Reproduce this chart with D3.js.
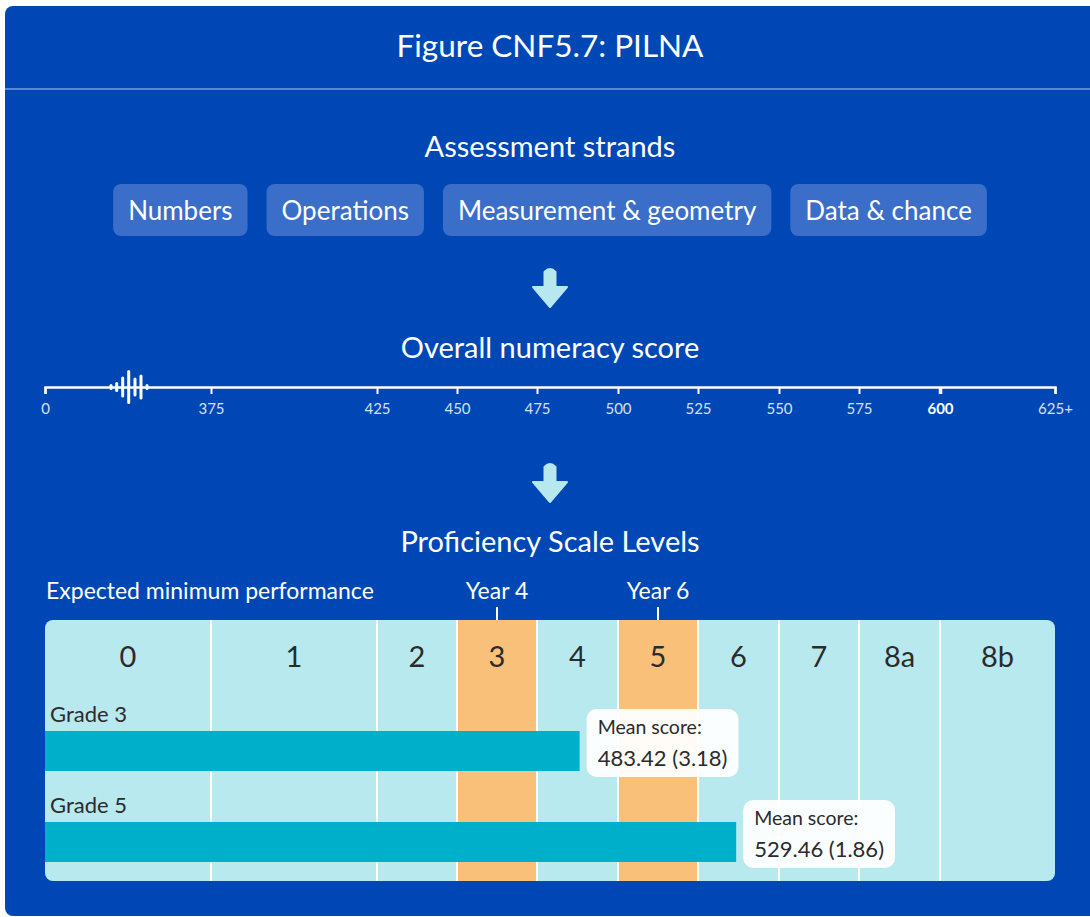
<!doctype html>
<html>
<head>
<meta charset="utf-8">
<title>Figure CNF5.7: PILNA</title>
<script src="https://d3js.org/d3.v7.min.js"></script>
<style>
  body { margin: 0; background: #fff; }
  svg { display: block; font-family: Lato, "Noto Sans", sans-serif; }
</style>
</head>
<body>
<script>
// data
var strands = ["Numbers", "Operations", "Measurement & geometry", "Data & chance"];
var tickValues = [0, 375, 425, 450, 475, 500, 525, 550, 575, 600, 625];
var tickLabels = ["0", "375", "425", "450", "475", "500", "525", "550", "575", "600", "625+"];
var levels = ["0", "1", "2", "3", "4", "5", "6", "7", "8a", "8b"];
var levelBounds = [0, 375, 425, 450, 475, 500, 525, 550, 575, 600, 625];
var expectedYears = ["Year 4", "Year 6"];
var expectedLevels = ["3", "5"];
var grades = ["Grade 3", "Grade 5"];
var meanScores = [483.42, 529.46];
var stdErrors = [3.18, 1.86];

var W = 1090, H = 917;
var blue = "#0047b6", cyan = "#b8e9ef", orange = "#f9c07a", teal = "#00b0cb", dark = "#2b2b2b";

var svg = d3.select("body").append("svg").attr("width", W).attr("height", H);

// panel
svg.append("rect").attr("x", 5).attr("y", 6).attr("width", 1100).attr("height", 910)
  .attr("rx", 8).attr("fill", blue);
svg.append("line").attr("x1", 5).attr("x2", W).attr("y1", 89).attr("y2", 89)
  .attr("stroke", "#5a88d4").attr("stroke-width", 2);

function heading(txt, y, size) {
  svg.append("text").attr("x", 550).attr("y", y).attr("text-anchor", "middle")
    .attr("fill", "#fff").style("font-size", size + "px").text(txt);
}
heading("Figure CNF5.7: PILNA", 57, 31.5);
heading("Assessment strands", 157, 29);
heading("Overall numeracy score", 358, 29);
heading("Proficiency Scale Levels", 552, 29);

// strand pills
var pad = 15, gap = 19;
var pills = svg.append("g");
var pillText = pills.selectAll("text").data(strands).enter().append("text")
  .attr("y", 220).attr("fill", "#fff").style("font-size", "26px").text(function(d) { return d; });
var widths = [];
pillText.each(function() { widths.push(this.getComputedTextLength() + 2 * pad); });
var total = d3.sum(widths) + gap * (strands.length - 1);
var px = 550 - total / 2, starts = [];
widths.forEach(function(w) { starts.push(px); px += w + gap; });
pills.selectAll("rect").data(strands).enter().insert("rect", "text")
  .attr("x", function(d, i) { return starts[i]; }).attr("y", 184)
  .attr("width", function(d, i) { return widths[i]; }).attr("height", 52)
  .attr("rx", 8).attr("fill", "#3a6ec8");
pillText.attr("x", function(d, i) { return starts[i] + pad; });

// arrows
function arrow(t) {
  var cx = 550;
  svg.append("path")
    .attr("d", "M" + (cx - 5.5) + "," + (t + 20) + " L" + (cx - 5.5) + "," + (t + 5) +
      " Q" + cx + "," + (t - 1) + " " + (cx + 5.5) + "," + (t + 5) +
      " L" + (cx + 5.5) + "," + (t + 20) + " L" + (cx + 17) + "," + (t + 20) +
      " L" + cx + "," + (t + 40) + " L" + (cx - 17) + "," + (t + 20) + " Z")
    .attr("fill", "#b7e8f0").attr("stroke", "#b7e8f0").attr("stroke-width", 2)
    .attr("stroke-linejoin", "round");
}
arrow(267);
arrow(462);

// score scale (piecewise, one segment per level)
var edgesPx = [45, 211, 377, 457, 537, 618, 698, 779, 859, 940, 1055];
var x = d3.scaleLinear().domain(levelBounds).range(edgesPx);

var axis = d3.axisBottom(x).tickValues(tickValues)
  .tickFormat(function(d, i) { return tickLabels[i]; })
  .tickSize(7).tickSizeOuter(7).tickPadding(9);
var ax = svg.append("g").attr("transform", "translate(0,387)").call(axis);
ax.select(".domain").attr("stroke", "#fff").attr("stroke-width", 2.5);
ax.selectAll(".tick line").attr("stroke", "#fff").attr("stroke-width", function(d) { return d === 600 ? 3.5 : 2; });
ax.selectAll(".tick text").attr("fill", function(d) { return d === 600 ? "#fff" : "#d6e0f4"; })
  .style("font-size", "15px").style("font-family", "Lato, sans-serif")
  .style("font-weight", function(d) { return d === 600 ? "bold" : "normal"; });

// axis break squiggle
var sq = [[111, 1.5], [116.7, 3.5], [122.7, 9], [128.7, 15.5], [135, 8], [141, 11], [147, 1.5]];
svg.append("g").selectAll("line").data(sq).enter().append("line")
  .attr("x1", function(d) { return d[0]; }).attr("x2", function(d) { return d[0]; })
  .attr("y1", function(d) { return 387 - d[1]; }).attr("y2", function(d) { return 387 + d[1]; })
  .attr("stroke", "#fff").attr("stroke-width", 3).attr("stroke-linecap", "round");

// expected minimum performance
svg.append("text").attr("x", 46).attr("y", 599).attr("fill", "#fff")
  .style("font-size", "23px").text("Expected minimum performance");
function levelMid(l) { var i = levels.indexOf(l); return (x(levelBounds[i]) + x(levelBounds[i + 1])) / 2; }
var yr = svg.append("g").selectAll("g").data(expectedYears).enter().append("g")
  .attr("transform", function(d, i) { return "translate(" + levelMid(expectedLevels[i]) + ",0)"; });
yr.append("text").attr("y", 599).attr("text-anchor", "middle").attr("fill", "#fff")
  .style("font-size", "23px").text(function(d) { return d; });
yr.append("line").attr("y1", 607).attr("y2", 621).attr("stroke", "#fff").attr("stroke-width", 2);

// levels panel
var panelTop = 620, panelBottom = 881;
svg.append("clipPath").attr("id", "pclip").append("rect")
  .attr("x", x(0)).attr("y", panelTop).attr("width", x(625) - x(0))
  .attr("height", panelBottom - panelTop).attr("rx", 8);
var panel = svg.append("g").attr("clip-path", "url(#pclip)");
panel.selectAll("rect.lvl").data(levels).enter().append("rect").attr("class", "lvl")
  .attr("x", function(d, i) { return x(levelBounds[i]); }).attr("y", panelTop)
  .attr("width", function(d, i) { return x(levelBounds[i + 1]) - x(levelBounds[i]); })
  .attr("height", panelBottom - panelTop)
  .attr("fill", function(d) { return expectedLevels.indexOf(d) >= 0 ? orange : cyan; });
panel.selectAll("line.div").data(levelBounds.slice(1, -1)).enter().append("line").attr("class", "div")
  .attr("x1", function(d) { return x(d); }).attr("x2", function(d) { return x(d); })
  .attr("y1", panelTop).attr("y2", panelBottom).attr("stroke", "#fff").attr("stroke-width", 2);
panel.selectAll("text.lvl").data(levels).enter().append("text").attr("class", "lvl")
  .attr("x", function(d) { return levelMid(d); }).attr("y", 667).attr("text-anchor", "middle")
  .attr("fill", dark).style("font-size", "29px").text(function(d) { return d; });

// bars: linear score scale
var bx = d3.scaleLinear().domain([375, 625]).range([x(375), x(375) + 250 * 3.4]);
var rowTop = [731, 822];
var rows = panel.selectAll("g.row").data(grades).enter().append("g").attr("class", "row");
rows.append("text").attr("x", 50).attr("y", function(d, i) { return rowTop[i] - 9; })
  .attr("fill", dark).style("font-size", "22px").text(function(d) { return d; });
rows.append("rect").attr("x", x(0)).attr("y", function(d, i) { return rowTop[i]; })
  .attr("width", function(d, i) { return bx(meanScores[i]) - x(0); }).attr("height", 40)
  .attr("fill", teal);

// mean score labels
var tips = svg.append("g").selectAll("g").data(grades).enter().append("g")
  .attr("transform", function(d, i) { return "translate(" + (bx(meanScores[i]) + 7) + "," + (rowTop[i] - 22) + ")"; });
tips.append("rect").attr("height", 68).attr("rx", 10)
  .attr("fill", "#fff").attr("fill-opacity", 0.93);
tips.append("text").attr("x", 11).attr("y", 25).attr("fill", dark).style("font-size", "19.5px").text("Mean score:");
var tv = tips.append("text").attr("x", 11).attr("y", 57).attr("fill", dark).style("font-size", "22px")
  .text(function(d, i) { return meanScores[i].toFixed(2) + " (" + stdErrors[i].toFixed(2) + ")"; });
tv.each(function() {
  var w = this.getComputedTextLength() + 22;
  d3.select(this.parentNode).select("rect").attr("width", w);
});
</script>
</body>
</html>
